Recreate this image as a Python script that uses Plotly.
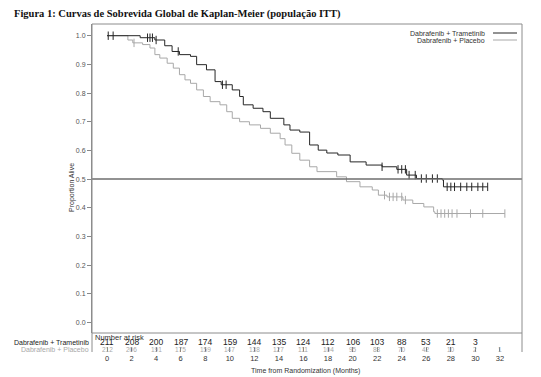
import plotly.graph_objects as go
import bisect

# ---- data ----
dt_time = [0, 2.7, 3.9, 4.7, 5.3, 5.9, 6.8, 7.3, 8.1, 8.8, 9.3, 10.2, 10.8, 11.1, 11.9,
           12.7, 13.3, 14.4, 14.9, 15.7, 16.5, 17.2, 17.9, 18.8, 19.8, 21.1, 22.4,
           23.6, 24.4, 25.2, 27.3, 27.4, 31.0]
dt_surv = [1.0, 0.993, 0.985, 0.965, 0.945, 0.934, 0.928, 0.899, 0.881, 0.840, 0.829,
           0.811, 0.788, 0.759, 0.747, 0.735, 0.712, 0.689, 0.671, 0.664, 0.619, 0.601,
           0.591, 0.584, 0.560, 0.549, 0.543, 0.534, 0.514, 0.502, 0.497, 0.473, 0.473]
dt_censor = [0.1, 0.5, 3.3, 3.5, 3.7, 4.0, 5.8, 9.4, 9.7, 22.4, 23.7, 24.0, 24.3, 24.6,
             25.1, 25.6, 26.0, 26.5, 26.9, 27.7, 28.0, 28.3, 28.8, 29.3, 29.7, 30.2, 30.6, 31.0]

pl_time = [0, 1.7, 2.1, 2.9, 3.5, 3.9, 4.3, 4.9, 5.4, 5.9, 6.35, 6.8, 7.3, 7.85, 8.4,
           9.2, 9.75, 10.2, 10.8, 11.6, 12.5, 13.3, 14.1, 14.5, 15.05, 15.7, 16.5, 17.1,
           18.7, 19.5, 20.6, 21.6, 22.1, 22.8, 24.1, 24.9, 25.8, 26.6, 26.7, 32.4]
pl_surv = [1.0, 0.985, 0.975, 0.969, 0.957, 0.934, 0.922, 0.904, 0.887, 0.864, 0.846,
           0.834, 0.811, 0.788, 0.770, 0.759, 0.735, 0.712, 0.700, 0.689, 0.677, 0.660,
           0.641, 0.619, 0.590, 0.566, 0.543, 0.526, 0.508, 0.491, 0.473, 0.462, 0.444,
           0.438, 0.427, 0.415, 0.403, 0.386, 0.380, 0.380]
pl_censor = [2.2, 22.6, 23.0, 23.3, 23.6, 24.0, 24.3, 26.9, 27.2, 27.5, 27.8, 28.1,
             28.5, 29.6, 30.6, 32.4]

risk_months = [0, 2, 4, 6, 8, 10, 12, 14, 16, 18, 20, 22, 24, 26, 28, 30, 32]
risk_dt = ["211", "208", "200", "187", "174", "159", "144", "135", "124", "112", "106",
           "103", "88", "53", "21", "3", ""]
risk_pl = ["212", "206", "191", "175", "159", "147", "138", "127", "111", "104", "95",
           "88", "70", "42", "10", "2", "1"]

series_names = ["Dabrafenib + Trametinib", "Dabrafenib + Placebo"]
title_text = "Figura 1: Curvas de Sobrevida Global de Kaplan-Meier (população ITT)"
y_ticks = [0.0, 0.1, 0.2, 0.3, 0.4, 0.5, 0.6, 0.7, 0.8, 0.9, 1.0]

# ---- layout constants (pixels) ----
W, H = 541, 377
def px(x):  # paper x from pixel
    return x / W
def py(y):  # paper y from pixel (top)
    return 1 - y / H

FRAME_L, FRAME_R, FRAME_T, FRAME_B, SEP = 92, 522, 24, 352, 333
DARK = "#262626"
LIGHT = "#a8a8a8"
FONT = "Liberation Sans, Arial"

def surv_at(times, surv, t):
    i = bisect.bisect_right(times, t) - 1
    return surv[max(i, 0)]

fig = go.Figure()
for times, surv, cens, col, nm in [(pl_time, pl_surv, pl_censor, LIGHT, series_names[1]),
                                   (dt_time, dt_surv, dt_censor, DARK, series_names[0])]:
    fig.add_trace(go.Scatter(x=times, y=surv, mode="lines", line=dict(color=col, width=1, shape="hv"),
                             name=nm, showlegend=False, hoverinfo="skip"))
    fig.add_trace(go.Scatter(x=cens, y=[surv_at(times, surv, c) for c in cens], mode="markers",
                             marker=dict(symbol="line-ns-open", size=6, color=col,
                                         line=dict(color=col, width=1)),
                             showlegend=False, hoverinfo="skip"))

# 0.5 reference line
fig.add_shape(type="line", xref="paper", yref="y", x0=px(FRAME_L), x1=px(FRAME_R), y0=0.5, y1=0.5,
              line=dict(color="#6e6e6e", width=1.5))

# frame lines
for (x0, y0, x1, y1) in [(FRAME_L, FRAME_T, FRAME_R, FRAME_T), (FRAME_R, FRAME_T, FRAME_R, FRAME_B),
                         (FRAME_L, FRAME_T, FRAME_L, FRAME_B), (FRAME_L, SEP, FRAME_R, SEP)]:
    fig.add_shape(type="line", xref="paper", yref="paper", x0=px(x0), y0=py(y0), x1=px(x1), y1=py(y1),
                  line=dict(color="#8c8c8c", width=1))

ann = []
# title
ann.append(dict(text="<b>" + title_text + "</b>", x=px(12), y=py(14), xref="paper", yref="paper",
                xanchor="left", yanchor="middle", showarrow=False,
                font=dict(family="Liberation Serif, Times New Roman, serif", size=10.5, color="#111")))
# legend (text then line sample)
for i, (nm, col) in enumerate(zip(series_names, [DARK, LIGHT])):
    yy = 33 + i * 7
    ann.append(dict(text=nm, x=px(487), y=py(yy), xref="paper", yref="paper", xanchor="right",
                    yanchor="middle", showarrow=False, font=dict(family=FONT, size=7, color="#333")))
    fig.add_shape(type="line", xref="paper", yref="paper", x0=px(493), x1=px(517), y0=py(yy), y1=py(yy),
                  line=dict(color=col, width=1))
# y axis title
ann.append(dict(text="Proportion Alive", x=px(66), y=py(188), xref="paper", yref="paper", textangle=-90,
                showarrow=False, font=dict(family=FONT, size=7, color="#333")))
# number at risk
ann.append(dict(text="Number at risk", x=px(93), y=py(337), xref="paper", yref="paper", xanchor="left",
                yanchor="middle", showarrow=False, font=dict(family=FONT, size=7.5, color="#333")))
ann.append(dict(text=series_names[0], x=px(91), y=py(342.5), xref="paper", yref="paper", xanchor="right",
                yanchor="middle", showarrow=False, font=dict(family=FONT, size=7, color="#222")))
ann.append(dict(text=series_names[1], x=px(91), y=py(349), xref="paper", yref="paper", xanchor="right",
                yanchor="middle", showarrow=False, font=dict(family=FONT, size=7, color=LIGHT)))
for m, a, b in zip(risk_months, risk_dt, risk_pl):
    if a:
        ann.append(dict(text=a, x=m, y=py(342), xref="x", yref="paper", xanchor="center", yanchor="middle",
                        showarrow=False, font=dict(family=FONT, size=8.5, color="#222")))
    ann.append(dict(text=b, x=m, y=py(349), xref="x", yref="paper", xanchor="center", yanchor="middle",
                    showarrow=False, font=dict(family=FONT, size=6.5, color=LIGHT)))
# x axis title
ann.append(dict(text="Time from Randomization (Months)", x=px(305), y=py(371), xref="paper", yref="paper",
                xanchor="center", yanchor="middle", showarrow=False, font=dict(family=FONT, size=7, color="#333")))

x_lo = (FRAME_L - 107) / 12.28
x_hi = (FRAME_R - 107) / 12.28
y_lo = (322.5 - SEP) / 286.8
y_hi = (322.5 - FRAME_T) / 286.8

fig.update_layout(
    width=W, height=H, margin=dict(l=0, r=0, t=0, b=0),
    paper_bgcolor="white", plot_bgcolor="white",
    annotations=ann,
    xaxis=dict(domain=[px(FRAME_L), px(FRAME_R)], range=[x_lo, x_hi], anchor="free", position=py(FRAME_B),
               tickvals=risk_months, ticks="inside", ticklen=5, tickcolor="#777", showline=False,
               showgrid=False, zeroline=False, automargin=False,
               tickfont=dict(family=FONT, size=7.5, color="#333")),
    yaxis=dict(domain=[py(SEP), py(FRAME_T)], range=[y_lo, y_hi], tickvals=y_ticks,
               ticktext=[f"{v:.1f}" for v in y_ticks], ticks="outside", ticklen=4, tickcolor="#888",
               showline=True, linecolor="#8c8c8c", showgrid=False, zeroline=False, automargin=False,
               tickfont=dict(family=FONT, size=7, color="#555")),
)

fig.write_html("out.html", config={"displayModeBar": False},
               post_script="document.body.style.margin='0';document.body.style.overflow='hidden';")
